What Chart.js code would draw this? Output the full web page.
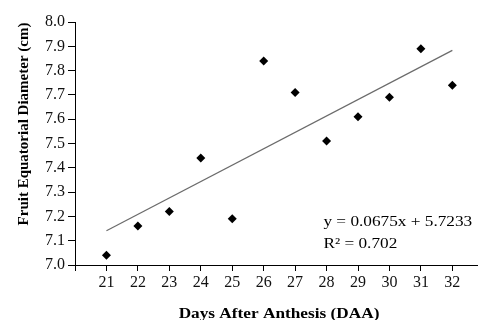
<!DOCTYPE html>
<html>
<head>
<meta charset="utf-8">
<script src="https://cdn.jsdelivr.net/npm/chart.js@4/dist/chart.umd.min.js"></script>
<style>
  html, body { margin: 0; padding: 0; background: #fff; }
  #wrap { width: 482px; height: 320px; }
</style>
</head>
<body>
<div id="wrap"><canvas id="chart" width="482" height="320"></canvas></div>
<script>
// days after anthesis and measured diameter (cm)
const days = [21, 22, 23, 24, 25, 26, 27, 28, 29, 30, 31, 32];
const diameter = [7.04, 7.16, 7.22, 7.44, 7.19, 7.84, 7.71, 7.51, 7.61, 7.69, 7.89, 7.74];

// linear trend as printed on the chart
const slope = 0.0675;
const intercept = 5.7233;
const trendX = [21, 32];
const equationLines = ['y = 0.0675x + 5.7233', 'R\u00b2 = 0.702'];

const xTitle = 'Days After Anthesis (DAA)';
const yTitle = 'Fruit Equatorial Diameter (cm)';

const serif = '"Liberation Serif", "Times New Roman", serif';
const stretch = 1.15; // the original text is a bit wider than Times

const points = days.map((d, i) => ({ x: d, y: diameter[i] }));
const trend = trendX.map(d => ({ x: d, y: slope * d + intercept }));

// draws the equation and axis titles
const textPlugin = {
    id: 'textPlugin',
    afterDraw(chart) {
        const ctx = chart.ctx;
        const area = chart.chartArea;
        const xs = chart.scales.x;
        ctx.save();
        ctx.fillStyle = '#000';

        // equation box
        ctx.save();
        ctx.font = '15px ' + serif;
        ctx.textAlign = 'left';
        ctx.textBaseline = 'middle';
        const ex = xs.getPixelForValue(27.9);
        ctx.translate(ex, 0);
        ctx.scale(stretch, 1);
        ctx.fillText(equationLines[0], 0, area.bottom - 43);
        ctx.fillText(equationLines[1], 0, area.bottom - 21);
        ctx.restore();

        // x title
        ctx.save();
        ctx.font = 'bold 15px ' + serif;
        ctx.textAlign = 'center';
        ctx.textBaseline = 'alphabetic';
        ctx.translate(279, area.bottom + 53);
        ctx.scale(stretch, 1);
        ctx.fillText(xTitle, 0, 0);
        ctx.restore();

        // y title
        ctx.font = 'bold 15px ' + serif;
        ctx.textAlign = 'center';
        ctx.translate(24, area.top + 102);
        ctx.rotate(-Math.PI / 2);
        ctx.textBaseline = 'middle';
        ctx.fillText(yTitle, 0, 0);
        ctx.restore();
    }
};

new Chart(document.getElementById('chart').getContext('2d'), {
    type: 'scatter',
    data: {
        datasets: [
            {
                label: 'diameter',
                data: points,
                pointStyle: 'rectRot',
                pointRadius: 4.5,
                pointBackgroundColor: '#000',
                pointBorderColor: '#000',
                pointBorderWidth: 0,
                showLine: false
            },
            {
                label: 'trend',
                data: trend,
                showLine: true,
                borderColor: '#6b6b6b',
                borderWidth: 1.2,
                pointRadius: 0
            }
        ]
    },
    options: {
        responsive: false,
        animation: false,
        layout: { padding: { top: 22, right: 0, left: 0, bottom: 0 } },
        plugins: {
            legend: { display: false },
            tooltip: { enabled: false }
        },
        scales: {
            x: {
                type: 'linear',
                min: 20,
                max: 32.8,
                afterFit(scale) { scale.height = 55; },
                afterBuildTicks(scale) {
                    scale.ticks = [20].concat(days).map(v => ({ value: v }));
                },
                ticks: {
                    font: { family: serif, size: 16 },
                    color: '#111',
                    padding: 2,
                    maxRotation: 0,
                    autoSkip: false,
                    callback: v => (v === 20 ? '' : String(v))
                },
                grid: { drawOnChartArea: false, drawTicks: true, tickLength: 6, color: '#000' },
                border: { color: '#000', width: 1 }
            },
            y: {
                min: 7.0,
                max: 8.0,
                afterFit(scale) { scale.width = 75; },
                ticks: {
                    stepSize: 0.1,
                    font: { family: serif, size: 16 },
                    color: '#111',
                    padding: 3,
                    callback: v => v.toFixed(1)
                },
                grid: { drawOnChartArea: false, drawTicks: true, tickLength: 7, color: '#000' },
                border: { color: '#000', width: 1 }
            }
        }
    },
    plugins: [textPlugin]
});
</script>
</body>
</html>
